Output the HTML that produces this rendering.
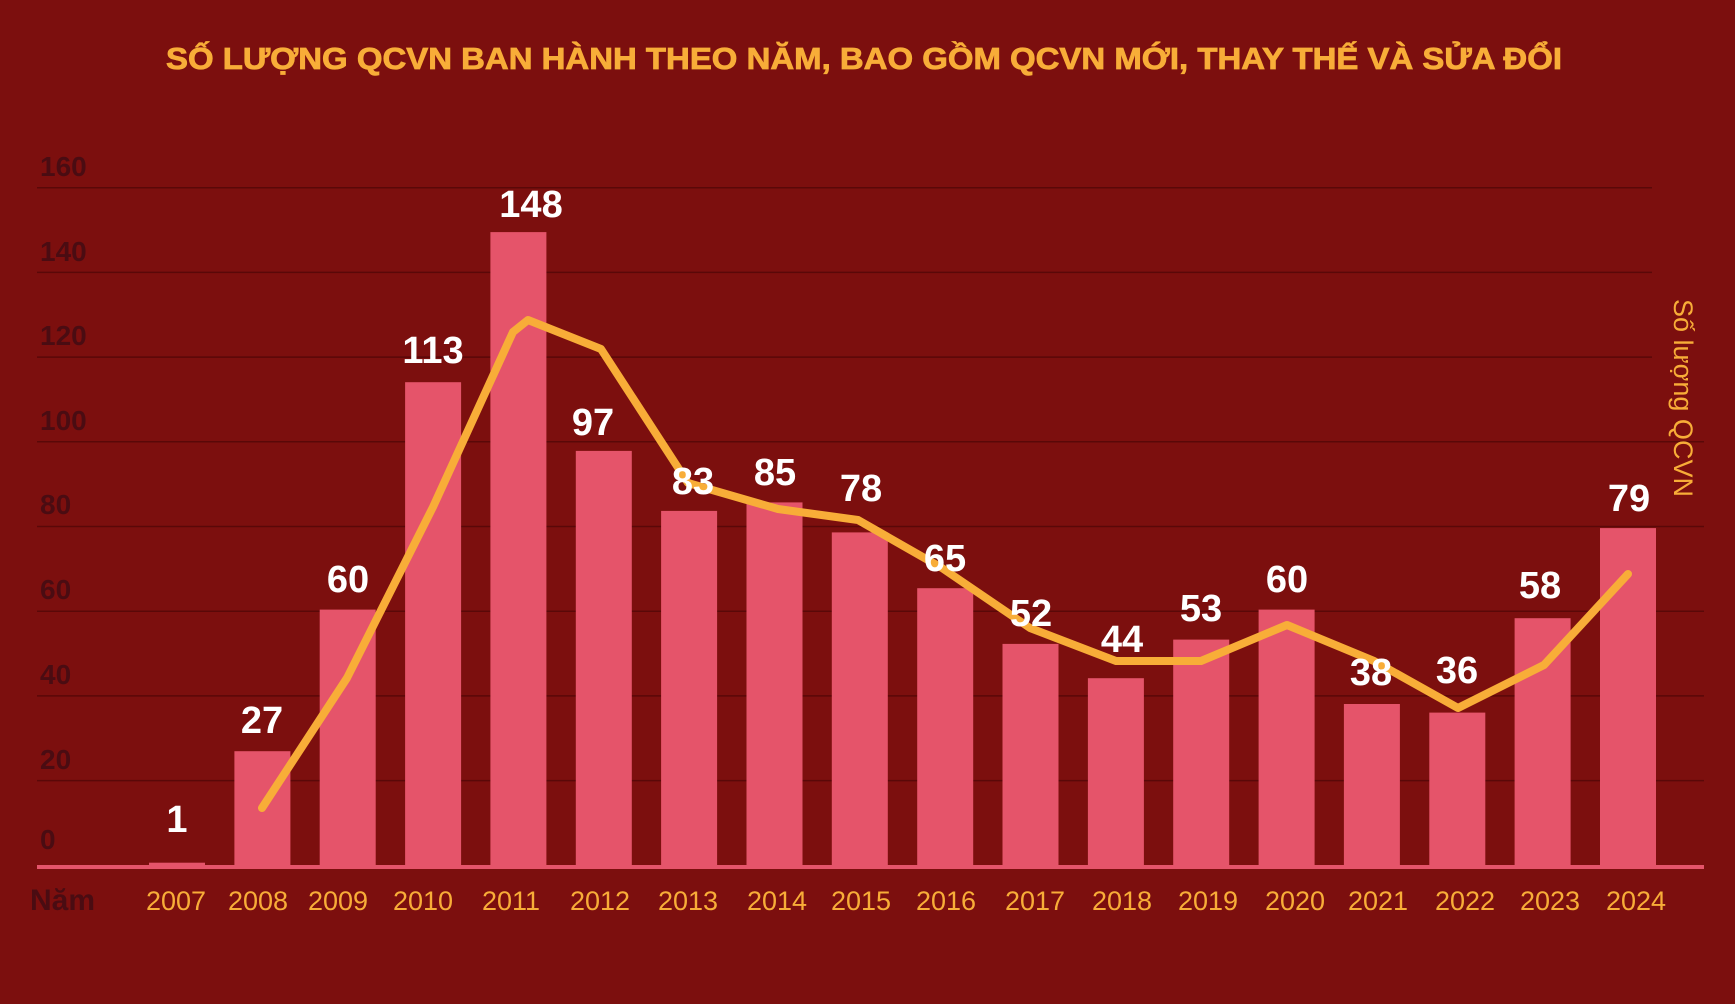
<!DOCTYPE html>
<html><head><meta charset="utf-8"><style>
html,body{margin:0;padding:0;background:#7c0f0e;}
svg{display:block;}
</style></head><body>
<svg width="1735" height="1004" viewBox="0 0 1735 1004" xmlns="http://www.w3.org/2000/svg">
<rect width="1735" height="1004" fill="#7c0f0e"/>
<text x="864" y="69" text-anchor="middle" font-family="Liberation Sans, sans-serif" font-weight="bold" font-size="31" fill="#f8ad38" stroke="#f8ad38" stroke-width="0.8" textLength="1396" lengthAdjust="spacingAndGlyphs">SỐ LƯỢNG QCVN BAN HÀNH THEO NĂM, BAO GỒM QCVN MỚI, THAY THẾ VÀ SỬA ĐỔI</text>
<g stroke="#5a0808" stroke-width="1.5">
<line x1="37" x2="1652" y1="187.7" y2="187.7"/>
<line x1="37" x2="1652" y1="272.4" y2="272.4"/>
<line x1="37" x2="1652" y1="357.1" y2="357.1"/>
<line x1="37" x2="1704" y1="441.8" y2="441.8"/>
<line x1="37" x2="1704" y1="526.5" y2="526.5"/>
<line x1="37" x2="1704" y1="611.2" y2="611.2"/>
<line x1="37" x2="1704" y1="695.9" y2="695.9"/>
<line x1="37" x2="1704" y1="780.6" y2="780.6"/>
</g>
<g font-family="Liberation Sans, sans-serif" font-weight="bold" font-size="28" fill="#4a0c12">
<text x="40" y="176">160</text><text x="40" y="261">140</text><text x="40" y="345">120</text>
<text x="40" y="430">100</text><text x="40" y="514">80</text><text x="40" y="599">60</text>
<text x="40" y="684">40</text><text x="40" y="769">20</text><text x="40" y="849">0</text>
<text x="30" y="910" font-size="30">Năm</text>
</g>
<g fill="#e5546a">
<rect x="149" y="862.7" width="56" height="4.3"/>
<rect x="234.4" y="751.2" width="56" height="115.8"/>
<rect x="319.7" y="609.6" width="56" height="257.4"/>
<rect x="405.1" y="382.2" width="56" height="484.8"/>
<rect x="490.4" y="232.1" width="56" height="634.9"/>
<rect x="575.8" y="450.9" width="56" height="416.1"/>
<rect x="661.1" y="510.9" width="56" height="356.1"/>
<rect x="746.5" y="502.4" width="56" height="364.6"/>
<rect x="831.8" y="532.4" width="56" height="334.6"/>
<rect x="917.2" y="588.2" width="56" height="278.8"/>
<rect x="1002.5" y="643.9" width="56" height="223.1"/>
<rect x="1087.9" y="678.2" width="56" height="188.8"/>
<rect x="1173.2" y="639.6" width="56" height="227.4"/>
<rect x="1258.6" y="609.6" width="56" height="257.4"/>
<rect x="1343.9" y="704" width="56" height="163"/>
<rect x="1429.3" y="712.6" width="56" height="154.4"/>
<rect x="1514.6" y="618.2" width="56" height="248.8"/>
<rect x="1600" y="528.1" width="56" height="338.9"/>
<rect x="37" y="865" width="1667" height="4"/>
</g>
<polyline fill="none" stroke="#f8ad38" stroke-width="8" stroke-linecap="round" stroke-linejoin="round"
points="262,808 347,678 433,507 513,332 528,320 601,349 688,483 778,509 858,520 942,568 1030,628 1116,661 1201,661 1287,625 1374,661 1458,708 1544,665 1628,574"/>
<g font-family="Liberation Sans, sans-serif" font-weight="bold" font-size="38" fill="#fff" text-anchor="middle">
<text x="177" y="832">1</text><text x="262" y="733">27</text><text x="348" y="592">60</text>
<text x="433" y="363">113</text><text x="531" y="217">148</text><text x="593" y="435">97</text>
<text x="693" y="494">83</text><text x="775" y="485">85</text><text x="861" y="501">78</text>
<text x="945" y="571">65</text><text x="1031" y="626">52</text><text x="1122" y="652">44</text>
<text x="1201" y="621">53</text><text x="1287" y="592">60</text><text x="1371" y="685">38</text>
<text x="1457" y="683">36</text><text x="1540" y="598">58</text><text x="1629" y="511">79</text>
</g>
<g font-family="Liberation Sans, sans-serif" font-size="27" fill="#f8ad38" text-anchor="middle">
<text x="176" y="910">2007</text><text x="258" y="910">2008</text><text x="338" y="910">2009</text>
<text x="423" y="910">2010</text><text x="511" y="910">2011</text><text x="600" y="910">2012</text>
<text x="688" y="910">2013</text><text x="777" y="910">2014</text><text x="861" y="910">2015</text>
<text x="946" y="910">2016</text><text x="1035" y="910">2017</text><text x="1122" y="910">2018</text>
<text x="1208" y="910">2019</text><text x="1295" y="910">2020</text><text x="1378" y="910">2021</text>
<text x="1465" y="910">2022</text><text x="1550" y="910">2023</text><text x="1636" y="910">2024</text>
</g>
<text transform="translate(1674,398) rotate(90)" text-anchor="middle" font-family="Liberation Sans, sans-serif" font-size="27" fill="#f8ad38" textLength="198" lengthAdjust="spacingAndGlyphs">Số lượng QCVN</text>
</svg>
</body></html>
